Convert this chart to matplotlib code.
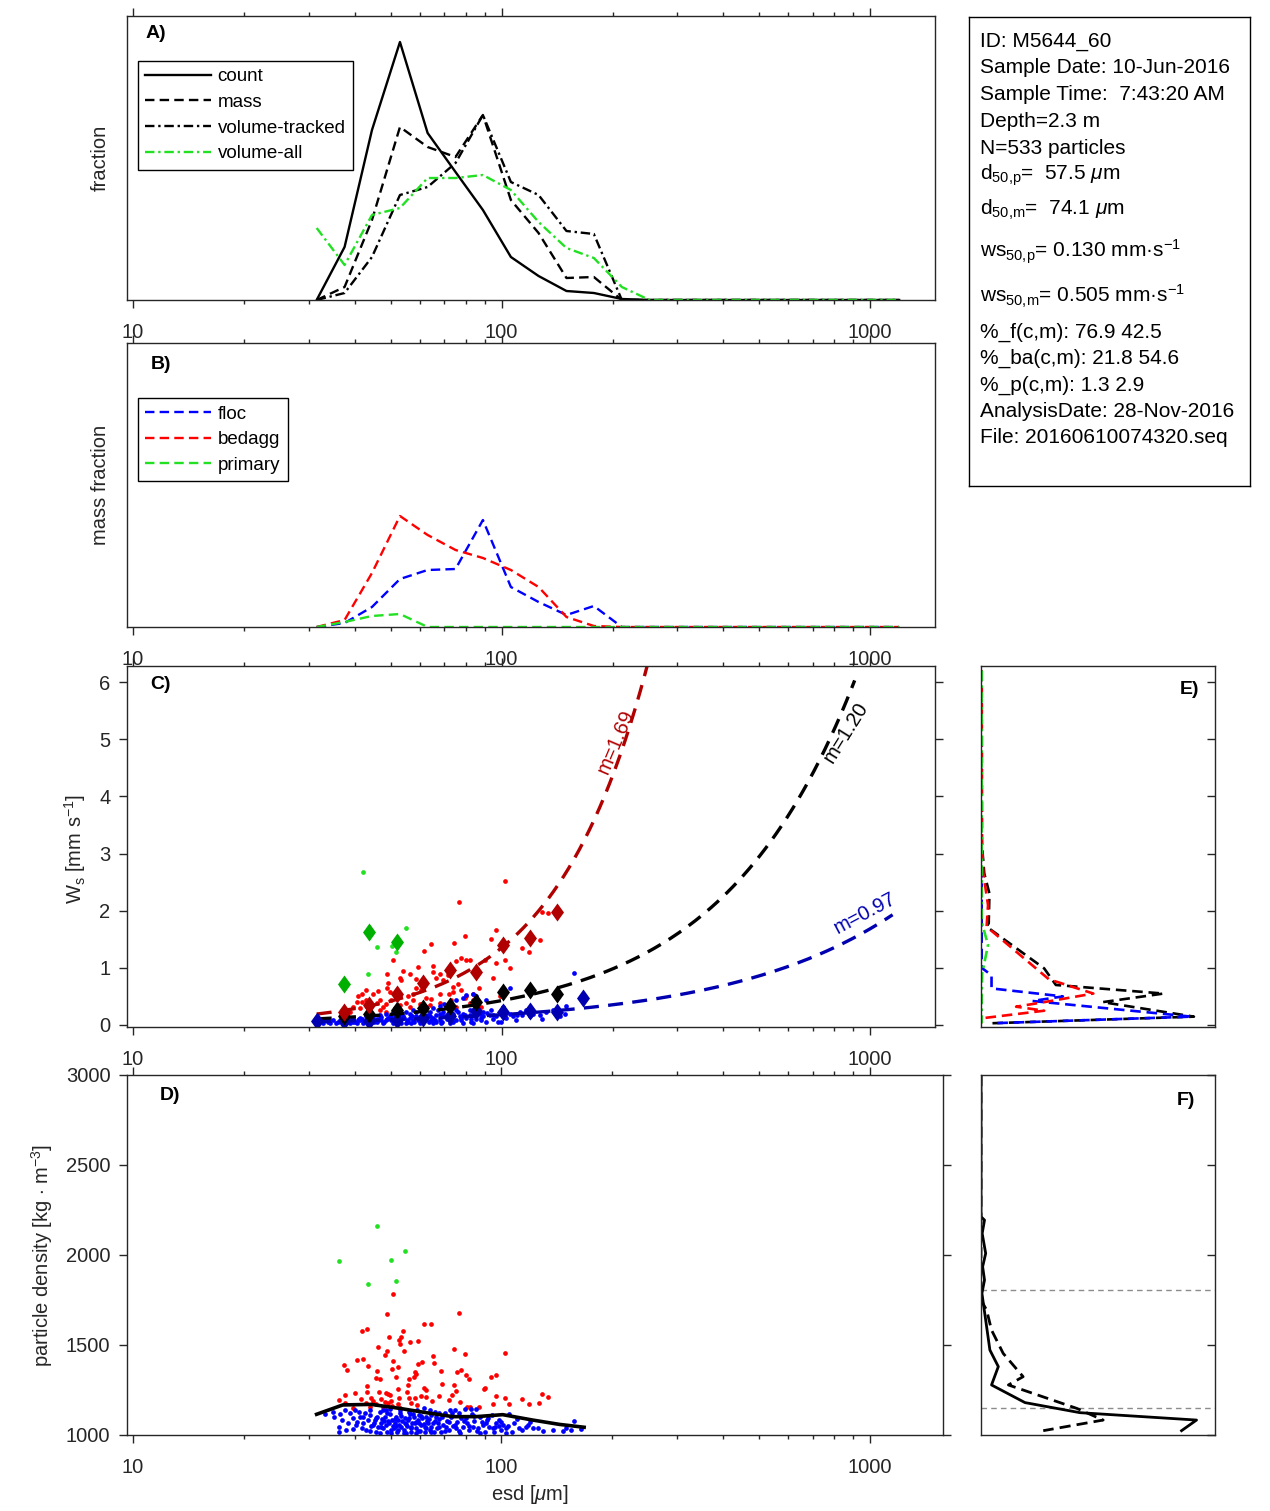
import numpy as np
import matplotlib
matplotlib.use('Agg')
import matplotlib.pyplot as plt
from matplotlib.ticker import LogLocator, NullFormatter

plt.rcParams['font.family'] = ['Liberation Sans', 'DejaVu Sans']
plt.rcParams['mathtext.fontset'] = 'custom'
plt.rcParams['mathtext.rm'] = 'Liberation Sans'
plt.rcParams['mathtext.it'] = 'Liberation Sans:italic'
plt.rcParams['font.size'] = 14.5

# ---- A / B : size distributions ----
bins = [31.5, 37.5, 44.5, 53, 63, 75, 89, 106, 126, 150, 178, 212, 252, 300,
        357, 424, 504, 600, 713, 848, 1008, 1199]
count = [0, .053, .170, .258, .167, .128, .090, .043, .024, .009, .007, .001] + [0] * 10
mass = [0, .013, .080, .173, .153, .143, .185, .100, .067, .022, .023, 0] + [0] * 10
vol_tracked = [0, .007, .043, .105, .113, .137, .185, .118, .105, .069, .066, 0] + [0] * 10
vol_all = [.072, .035, .085, .092, .122, .122, .125, .110, .078, .052, .042, .013] + [0] * 10

floc = [0, .004, .020, .048, .057, .058, .107, .040, .025, .012, .021, 0] + [0] * 10
bedagg = [0, .007, .054, .111, .092, .077, .069, .057, .040, .010, .001, 0] + [0] * 10
primary = [0, .005, .011, .013] + [0] * 18

# ---- C : settling velocity ----
c_red_d = [101.9, 76.6, 128.6, 133.9, 96.5, 126.8, 74.3, 79.7, 64.2, 61.7,
           50.9, 93.4, 113.7, 118.6, 102.1, 96.7, 105.1, 94.7, 89.9, 80.2,
           77.7, 81.9, 75.4, 65.2, 59.3, 56.3, 54.0, 48.9, 52.9, 53.4,
           58.5, 60.3, 65.2, 67.9, 66.5, 71.5, 73.8, 69.3, 76.2, 77.7,
           83.6, 86.8, 80.2, 73.8, 71.9, 67.9, 64.5, 62.5, 60.6, 58.7,
           57.5, 55.7, 52.9, 48.9, 49.3, 49.7, 46.3, 44.8, 43.0, 41.8,
           40.8, 40.4, 41.7, 43.0, 43.9, 45.8, 46.7, 47.7, 48.7, 50.2,
           51.3, 52.9, 55.2, 56.3, 57.5, 41.3, 39.5, 38.7, 46.7, 48.7,
           63.8, 59.9, 73.0, 67.9, 83.6, 88.1, 81.9, 75.4, 98.8, 79.4]
c_red_ws = [2.52, 2.16, 1.97, 1.96, 1.66, 1.48, 1.44, 1.56, 1.41, 1.29,
            1.14, 1.50, 1.35, 1.28, 1.14, 1.08, 1.00, 0.83, 1.14, 1.14,
            1.17, 1.14, 1.12, 1.03, 1.01, 0.90, 0.94, 0.90, 0.82, 0.79,
            0.80, 0.72, 0.93, 0.90, 0.82, 0.88, 0.67, 0.78, 0.72, 0.61,
            0.55, 0.64, 0.50, 0.58, 0.54, 0.54, 0.45, 0.47, 0.61, 0.65,
            0.54, 0.50, 0.53, 0.64, 0.73, 0.58, 0.60, 0.55, 0.62, 0.55,
            0.50, 0.41, 0.41, 0.44, 0.32, 0.38, 0.44, 0.32, 0.37, 0.44,
            0.29, 0.35, 0.38, 0.32, 0.44, 0.29, 0.32, 0.23, 0.26, 0.23,
            0.35, 0.37, 0.44, 0.38, 0.44, 0.32, 0.38, 0.32, 0.50, 0.47]
c_blue_d = [157, 105.5, 90.9, 85.4, 83.6, 80.2, 78.6, 75.4, 72.3, 70.0,
            67.9, 65.2, 62.5, 59.9, 57.5, 55.2, 52.9, 50.8, 48.7, 46.7,
            44.8, 43.0, 41.3, 39.5, 37.9, 36.4, 34.9, 33.5, 32.1, 31.5,
            149.7, 148.7, 143.9, 137.7, 132.1, 128.9, 121.6, 116.7, 113.5, 109.6,
            107.3, 105.1, 103.0, 99.8, 98.8, 96.7, 94.7, 92.8, 90.9, 89.0,
            87.2, 85.4, 83.6, 81.9, 80.2, 78.6, 76.9, 75.4, 73.8, 72.3,
            70.8, 69.3, 67.9, 66.5, 65.2, 63.8, 62.5, 61.2, 59.9, 58.7,
            57.5, 56.3, 55.2, 54.0, 52.9, 51.8, 50.8, 49.7, 48.7, 47.7,
            46.7, 45.8, 44.8, 43.9, 43.0, 42.1, 41.3, 40.4, 39.5, 38.7,
            37.9, 37.1, 35.6, 34.2, 32.8,
            56.3, 58.7, 61.2, 63.8, 66.5, 69.3, 72.3, 75.4, 78.6, 81.9,
            85.4, 89.0, 70.8, 67.2, 63.1, 59.3, 55.7, 52.3, 49.2, 46.3,
            43.4, 40.8, 38.3, 36.0, 33.8,
            126.8, 119.1, 111.9, 100.8, 93.7, 88.1, 82.7, 77.7, 73.0, 68.6,
            64.5, 60.6, 56.9, 53.4, 50.2, 47.2, 44.3, 41.7, 39.1, 36.8,
            40.0, 41.0, 42.5, 44.0, 45.0, 46.0, 47.0, 48.0, 49.0, 50.0,
            51.0, 52.0, 53.0, 54.5, 55.5, 57.0, 58.0, 59.5, 61.0, 62.0,
            63.5, 65.0, 66.0, 68.0, 69.0, 71.0, 72.5, 74.0, 76.0, 77.5,
            79.5, 82.5, 84.5, 86.0, 88.0, 91.5, 95.0, 97.5, 102, 110]
c_blue_ws = [0.91, 0.65, 0.44, 0.50, 0.55, 0.53, 0.47, 0.44, 0.41, 0.37,
             0.33, 0.29, 0.32, 0.26, 0.27, 0.23, 0.20, 0.22, 0.19, 0.18,
             0.15, 0.16, 0.13, 0.12, 0.10, 0.09, 0.08, 0.09, 0.10, 0.06,
             0.34, 0.19, 0.16, 0.26, 0.23, 0.10, 0.20, 0.26, 0.18, 0.09,
             0.15, 0.20, 0.12, 0.06, 0.23, 0.15, 0.10, 0.18, 0.06, 0.15,
             0.20, 0.10, 0.04, 0.18, 0.12, 0.03, 0.16, 0.09, 0.20, 0.04,
             0.15, 0.23, 0.09, 0.18, 0.03, 0.15, 0.10, 0.20, 0.04, 0.15,
             0.09, 0.19, 0.03, 0.15, 0.09, 0.18, 0.04, 0.15, 0.09, 0.03,
             0.12, 0.06, 0.10, 0.03, 0.08, 0.04, 0.09, 0.03, 0.06, 0.04,
             0.03, 0.05, 0.03, 0.04, 0.03,
             0.12, 0.23, 0.06, 0.23, 0.06, 0.15, 0.12, 0.26, 0.20, 0.26,
             0.29, 0.23, 0.32, 0.26, 0.18, 0.09, 0.06, 0.12, 0.12, 0.09,
             0.12, 0.08, 0.08, 0.06, 0.06,
             0.18, 0.15, 0.23, 0.32, 0.26, 0.09, 0.10, 0.08, 0.15, 0.03,
             0.09, 0.15, 0.03, 0.04, 0.09, 0.08, 0.06, 0.10, 0.09, 0.10,
             0.05, 0.11, 0.07, 0.13, 0.05, 0.10, 0.14, 0.06, 0.11, 0.16,
             0.07, 0.12, 0.05, 0.13, 0.09, 0.16, 0.06, 0.12, 0.09, 0.16,
             0.05, 0.13, 0.09, 0.20, 0.06, 0.11, 0.17, 0.06, 0.22, 0.13,
             0.18, 0.06, 0.16, 0.24, 0.13, 0.21, 0.18, 0.06, 0.14, 0.17]
c_green_d = [42.1, 55.0, 45.9, 50.3, 51.6, 43.4]
c_green_ws = [2.68, 1.70, 1.36, 1.38, 1.27, 0.89]

# bin medians (diamonds)
med_d = [31.5, 37.3, 43.7, 52.1, 61.3, 72.4, 85.4, 101, 119.6, 141.2, 166.2]
med_red = [None, 0.23, 0.35, 0.55, 0.73, 0.96, 0.93, 1.40, 1.52, 1.97, None]
med_all = [None, 0.16, 0.20, 0.27, 0.30, 0.34, 0.41, 0.57, 0.62, 0.55, None]
med_blue = [0.075, 0.07, 0.075, 0.09, 0.13, 0.15, 0.25, 0.23, 0.25, 0.23, 0.48]
med_green = [None, 0.72, 1.63, 1.46] + [None] * 7

# power-law fits ws = ws_ref * (d / d_ref) ** m
fit_m = [1.69, 1.20, 0.97]
fit_ref = [(113, 1.66), (629, 3.88), (736, 1.25)]
fit_range = [(31.5, 262), (31.5, 908), (31.5, 1151)]
fit_col = ['#b00000', 'black', '#0000b0']
fit_lab = ['m=1.69', 'm=1.20', 'm=0.97']
fit_lab_pos = [(204, 4.96, 67), (858, 5.12, 58), (966, 1.96, 28)]

# ---- D : particle density ----
d_red_d = [50.8, 48.9, 76.6, 41.8, 43.1, 61.7, 64.2, 54.0, 49.4, 53.4,
           52.6, 56.3, 53.1, 59.3, 46.3, 49.0, 48.4, 54.3, 74.3, 79.7,
           102.1, 65.3, 65.6, 60.9, 59.4, 42.1, 40.5, 37.4, 38.1, 50.7,
           52.3, 50.5, 43.3, 45.9, 45.8, 46.8, 51.9, 58.4, 58.7, 57.9,
           56.0, 55.9, 68.4, 75.6, 77.9, 80.0, 81.7, 69.1, 74.5, 75.4,
           73.6, 61.7, 62.5, 60.5, 62.4, 55.3, 52.4, 49.3, 48.7, 49.8,
           46.4, 43.1, 43.1, 40.1, 37.6, 36.3, 41.7, 44.3, 44.7, 47.2,
           48.3, 50.1, 52.7, 52.3, 50.6, 49.1, 45.8, 44.1, 43.0, 37.6,
           56.2, 58.2, 59.0, 56.7, 64.8, 67.9, 72.2, 77.4, 80.7, 82.2,
           87.0, 93.8, 96.5, 89.6, 90.1, 96.5, 102.1, 94.7, 104.7, 113.7,
           118.6, 128.9, 133.9, 126.5, 52.9, 47.7, 39.5]
d_red_rho = [1783, 1674, 1676, 1576, 1587, 1615, 1618, 1580, 1544, 1543,
             1528, 1517, 1505, 1520, 1491, 1467, 1443, 1467, 1476, 1450,
             1455, 1439, 1398, 1407, 1394, 1420, 1417, 1389, 1363, 1413,
             1380, 1367, 1385, 1354, 1318, 1311, 1322, 1352, 1341, 1320,
             1309, 1278, 1357, 1348, 1359, 1335, 1313, 1285, 1276, 1244,
             1222, 1261, 1252, 1218, 1213, 1241, 1254, 1230, 1233, 1222,
             1241, 1274, 1239, 1231, 1222, 1196, 1202, 1206, 1189, 1198,
             1185, 1191, 1204, 1170, 1161, 1176, 1172, 1157, 1176, 1176,
             1207, 1206, 1165, 1176, 1191, 1215, 1196, 1185, 1157, 1155,
             1157, 1320, 1333, 1255, 1263, 1218, 1207, 1174, 1172, 1198,
             1174, 1228, 1211, 1180, 1148, 1157, 1148]
d_blue_d = [33.1, 35.1, 36.2, 36.2, 37.0, 37.5, 38.7, 39.5, 40.0, 41.1,
            41.3, 42.1, 43.0, 43.9, 44.3, 45.3, 45.8, 46.7, 47.2, 47.7,
            48.2, 48.5, 48.9, 49.5, 49.9, 50.6, 51.1, 51.7, 52.1, 52.7,
            53.2, 53.8, 54.3, 54.9, 55.4, 56.1, 56.7, 57.2, 57.8, 58.5,
            59.0, 59.6, 60.3, 60.9, 61.6, 62.2, 62.9, 63.8, 64.5, 65.2,
            66.1, 66.8, 67.6, 68.6, 69.3, 70.2, 71.1, 72.0, 73.1, 73.8,
            74.9, 75.6, 76.6, 77.7, 78.6, 79.7, 80.7, 81.9, 83.1, 84.1,
            85.4, 86.5, 87.7, 89.0, 90.3, 91.4, 92.8, 94.1, 95.3, 96.7,
            98.4, 99.8, 101.3, 103.0, 105.1, 106.6, 108.4, 111.4, 113.7, 116.7,
            119.6, 121.6, 129.4, 137.7, 146.6, 149.7, 154.4, 157.0, 164.4,
            43.4, 44.8, 46.3, 47.5, 48.7, 50.2, 51.3, 52.4, 53.4, 54.6,
            55.7, 56.9, 58.1, 59.3, 60.6, 61.9, 63.1, 64.5, 65.8, 67.2,
            46.7, 49.2, 51.9, 55.2, 58.7, 62.5, 66.5, 70.8, 75.4, 80.2,
            83.6, 90.9, 98.8, 87.2, 94.7, 103.0, 38.3, 40.4, 42.1, 36.4,
            34.9, 39.5, 37.9, 43.9, 45.8, 47.7, 49.7, 52.9, 56.3, 59.9,
            63.8, 67.9, 72.3, 76.9, 82.7,
            40.5, 41.8, 42.6, 44.0, 45.0, 46.0, 47.0, 48.0, 49.0, 50.0,
            50.9, 51.5, 52.5, 53.5, 54.5, 55.0, 56.0, 57.0, 57.5, 58.5,
            59.5, 60.5, 61.5, 62.5, 63.5, 64.5, 66.0, 67.5, 69.0, 70.5,
            72.0, 73.5, 75.0, 77.0, 79.0, 81.5, 84.0, 86.0, 88.5, 92.0,
            96.0, 100, 104, 110, 118, 126]
d_blue_rho = [1115, 1102, 1046, 1018, 1083, 1137, 1120, 1031, 1139, 1126,
              1098, 1065, 1028, 1111, 1050, 1083, 1018, 1130, 1065, 1037,
              1102, 1139, 1018, 1065, 1117, 1083, 1037, 1102, 1018, 1055,
              1120, 1080, 1028, 1093, 1050, 1130, 1018, 1068, 1102, 1037,
              1139, 1065, 1024, 1093, 1148, 1046, 1080, 1028, 1111, 1065,
              1130, 1037, 1087, 1018, 1055, 1120, 1080, 1028, 1102, 1050,
              1139, 1074, 1024, 1093, 1046, 1143, 1065, 1028, 1117, 1080,
              1143, 1037, 1102, 1055, 1018, 1083, 1046, 1111, 1018, 1065,
              1083, 1028, 1055, 1037, 1117, 1018, 1065, 1037, 1028, 1046,
              1074, 1037, 1024, 1028, 1020, 1037, 1028, 1078, 1031,
              1083, 1055, 1046, 1087, 1055, 1028, 1065, 1083, 1046, 1065,
              1083, 1046, 1065, 1083, 1055, 1018, 1065, 1046, 1018, 1065,
              1013, 1080, 1050, 1013, 1013, 1102, 1102, 1046, 1037, 1093,
              1046, 1065, 1050, 1013, 1037, 1013, 1065, 1055, 1102, 1117,
              1130, 1093, 1028, 1139, 1093, 1139, 1143, 1139, 1117, 1111,
              1139, 1120, 1139, 1120, 1143,
              1075, 1040, 1120, 1025, 1068, 1100, 1045, 1078, 1120, 1010,
              1050, 1090, 1030, 1105, 1012, 1060, 1095, 1040, 1115, 1075,
              1025, 1108, 1060, 1038, 1090, 1015, 1078, 1045, 1100, 1020,
              1070, 1120, 1058, 1012, 1080, 1048, 1105, 1025, 1072, 1095,
              1042, 1075, 1050, 1090, 1058, 1040]
d_green_d = [45.9, 36.2, 54.8, 50.3, 43.4, 51.7]
d_green_rho = [2161, 1967, 2020, 1974, 1837, 1857]
mean_d = [31.5, 37.1, 44.3, 52.9, 62.5, 73.8, 85.4, 100.8, 121.6, 143.6, 167.7]
mean_rho = [1115, 1167, 1170, 1148, 1124, 1102, 1102, 1113, 1083, 1059, 1043]

# ---- E : ws distributions (fraction, ws) ----
e_black_f = [0.003, 0.004, 0.014, 0.036, 0.033, 0.024, 0.27, 0.32, 0.78, 0.52, 0.91, 0.04]
e_black_ws = [6.2, 3.15, 2.65, 2.30, 1.78, 1.72, 0.99, 0.70, 0.55, 0.40, 0.146, 0.03]
e_red_f = [0.003, 0.003, 0.01, 0.03, 0.024, 0.29, 0.48, 0.27, 0.15, 0.27, 0.003, 0.003]
e_red_ws = [6.2, 3.3, 2.65, 2.1, 1.72, 0.80, 0.55, 0.40, 0.32, 0.25, 0.117, 0.03]
e_blue_f = [0.003, 0.003, 0.045, 0.045, 0.35, 0.22, 0.9, 0.045]
e_blue_ws = [6.2, 1.0, 0.87, 0.64, 0.50, 0.42, 0.146, 0.03]
e_green_f = [0.003, 0.003, 0.03, 0.005, 0.003, 0.003, 0.003]
e_green_ws = [6.2, 1.8, 1.4, 0.9, 0.55, 0.3, 0.03]

# ---- F : density distributions (fraction, density) ----
f_count_f = [0, 0, 0.015, 0.005, 0.02, 0.007, 0.015, 0.004, 0.01, 0.024, 0.038,
             0.074, 0.045, 0.188, 0.423, 0.921, 0.857]
f_count_rho = [3000, 2213, 2194, 2120, 2009, 1935, 1861, 1787, 1731, 1602, 1472,
               1380, 1278, 1180, 1124, 1083, 1024]
f_mass_f = [0, 0, 0.024, 0.045, 0.095, 0.18, 0.117, 0.409, 0.522, 0.266]
f_mass_rho = [3000, 1750, 1694, 1583, 1453, 1324, 1278, 1148, 1083, 1024]
f_lines = [1805, 1152]

info = ['ID: M5644_60', 'Sample Date: 10-Jun-2016', 'Sample Time:  7:43:20 AM',
        'Depth=2.3 m', 'N=533 particles', r'd$_{\mathrm{50{,}p}}$=  57.5 $\mu$m',
        r'd$_{\mathrm{50{,}m}}$=  74.1 $\mu$m', r'ws$_{\mathrm{50{,}p}}$= 0.130 mm·s$^{\mathrm{-1}}$',
        r'ws$_{\mathrm{50{,}m}}$= 0.505 mm·s$^{\mathrm{-1}}$', '%_f(c,m): 76.9 42.5',
        '%_ba(c,m): 21.8 54.6', '%_p(c,m): 1.3 2.9',
        'AnalysisDate: 28-Nov-2016', 'File: 20160610074320.seq']
info_base = [47, 73, 100, 127, 154, 180, 215, 258, 303, 338, 364, 391, 417, 443]

# ---------------- drawing ----------------
W, H = 1270, 1511
fig = plt.figure(figsize=(W / 100, H / 100), dpi=100)
axcol = '0.15'
GREEN = '#22e022'
DASH = (4, 2.2)
DASHDOT = (4, 1.6, 1, 1.6)


def box(l, t, r, b):
    return fig.add_axes([l / W, 1 - b / H, (r - l) / W, (b - t) / H])


def style(ax, direction='out'):
    for s in ax.spines.values():
        s.set_color(axcol)
        s.set_linewidth(1.0)
    ax.tick_params(which='both', direction=direction, colors=axcol,
                   labelcolor=axcol, labelsize=14.5, width=1, top=True, right=True)
    ax.tick_params(which='major', length=6)
    ax.tick_params(which='minor', length=3.2)
    ax.tick_params(axis='x', which='major', pad=10.5)
    ax.tick_params(axis='y', which='major', pad=6)


def logx(ax, right=1500):
    ax.set_xscale('log')
    ax.set_xlim(9.63, right)
    ax.set_xticks([10, 100, 1000], ['10', '100', '1000'])
    ax.xaxis.set_minor_locator(LogLocator(base=10, subs=np.arange(2, 10)))
    ax.xaxis.set_minor_formatter(NullFormatter())


def letter(ax, x, y, s):
    ax.text(x, y, s, transform=ax.transAxes, fontsize=14, fontweight='bold',
            ha='center', va='center', color='black')


def legend(ax, anchor):
    leg = ax.legend(loc='upper left', bbox_to_anchor=anchor, borderaxespad=0,
                    fancybox=False, edgecolor='black', fontsize=13.5, handlelength=3.5,
                    labelspacing=0.45, handletextpad=0.35, borderpad=0.4, framealpha=1)
    leg.get_frame().set_linewidth(1.0)


# A
axA = box(127, 16, 935, 300)
style(axA)
logx(axA)
axA.set_yticks([])
axA.set_ylim(0, 0.284)
axA.plot(bins, count, '-', color='black', lw=1.7, label='count')
axA.plot(bins, mass, color='black', lw=1.7, dashes=DASH, label='mass')
axA.plot(bins, vol_tracked, color='black', lw=1.7, dashes=DASHDOT, label='volume-tracked')
axA.plot(bins, vol_all, color=GREEN, lw=1.7, dashes=DASHDOT, label='volume-all')
legend(axA, (0.0136, 0.842))
letter(axA, 0.036, 0.94, 'A)')

# B
axB = box(127, 343, 935, 627)
style(axB)
logx(axB)
axB.set_yticks([])
axB.set_ylim(0, 0.284)
axB.plot(bins, floc, color='#0000ff', lw=1.7, dashes=DASH, label='floc')
axB.plot(bins, bedagg, color='#ff0000', lw=1.7, dashes=DASH, label='bedagg')
axB.plot(bins, primary, color=GREEN, lw=1.7, dashes=DASH, label='primary')
legend(axB, (0.0136, 0.806))
letter(axB, 0.042, 0.923, 'B)')

# C
diam = [(0, 1), (0.72, 0), (0, -1), (-0.72, 0), (0, 1)]
axC = box(127, 666, 935, 1027)
style(axC)
logx(axC)
axC.set_ylim(-0.035, 6.28)
axC.set_yticks(range(7))
axC.plot(c_red_d, c_red_ws, 'o', color='#ff0000', ms=3.4, mew=0)
axC.plot(c_blue_d, c_blue_ws, 'o', color='#0000ff', ms=3.4, mew=0)
axC.plot(c_green_d, c_green_ws, 'o', color=GREEN, ms=3.4, mew=0)
for m, (dr, wr), (d0, d1), col in zip(fit_m, fit_ref, fit_range, fit_col):
    dd = np.geomspace(d0, d1, 200)
    axC.plot(dd, wr * (dd / dr) ** m, color=col, lw=2.4, dashes=(4.5, 2.8))
for vals, col in [(med_blue, '#0000b0'), (med_all, 'black'), (med_red, '#b00000'),
                  (med_green, '#00b000')]:
    dx = [d for d, v in zip(med_d, vals) if v is not None]
    vy = [v for v in vals if v is not None]
    axC.plot(dx, vy, ls='none', marker=diam, ms=13, color=col, mew=0)
for (x, y, rot), s, col in zip(fit_lab_pos, fit_lab, fit_col):
    axC.text(x, y, s, rotation=rot, color=col, fontsize=14.5, ha='center', va='center')
letter(axC, 0.042, 0.95, 'C)')

# D
axD = box(127, 1075, 943, 1435)
style(axD)
logx(axD, 1580)
axD.set_ylim(1000, 3000)
axD.set_yticks([1000, 1500, 2000, 2500, 3000])
axD.plot(d_red_d, d_red_rho, 'o', color='#ff0000', ms=3.4, mew=0)
axD.plot(d_blue_d, d_blue_rho, 'o', color='#0000ff', ms=3.4, mew=0)
axD.plot(d_green_d, d_green_rho, 'o', color=GREEN, ms=3.4, mew=0)
axD.plot(mean_d, mean_rho, '-', color='black', lw=2.6)
letter(axD, 0.053, 0.944, 'D)')

# E
axE = box(981, 666, 1215, 1027)
style(axE, 'in')
axE.set_xlim(0, 1)
axE.set_ylim(-0.035, 6.28)
axE.set_xticks([])
axE.set_yticks(range(7))
axE.tick_params(labelleft=False, labelright=False, left=False)
axE.plot(e_black_f, e_black_ws, color='black', lw=1.9, dashes=DASH)
axE.plot(e_blue_f, e_blue_ws, color='#0000ff', lw=1.9, dashes=DASH)
axE.plot(e_red_f, e_red_ws, color='#ff0000', lw=1.9, dashes=DASH)
axE.plot(e_green_f, e_green_ws, color=GREEN, lw=1.9, dashes=DASHDOT)
letter(axE, 0.889, 0.934, 'E)')

# F
axF = box(981, 1075, 1215, 1435)
style(axF, 'in')
axF.set_xlim(0, 1)
axF.set_ylim(1000, 3000)
axF.set_xticks([])
axF.set_yticks([1000, 1500, 2000, 2500, 3000])
axF.tick_params(labelleft=False, labelright=False, left=False)
for yl in f_lines:
    axF.axhline(yl, color='0.55', lw=1.0, dashes=(4, 3))
axF.plot(f_count_f, f_count_rho, '-', color='black', lw=2.0)
axF.plot(f_mass_f, f_mass_rho, color='black', lw=2.0, dashes=DASH)
letter(axF, 0.876, 0.93, 'F)')

# info box
axT = box(969, 17, 1250, 486)
axT.set_xticks([])
axT.set_yticks([])
for s in axT.spines.values():
    s.set_linewidth(1.0)
for s, yb in zip(info, info_base):
    fig.text(980 / W, 1 - yb / H, s, fontsize=15, va='baseline', ha='left')

# axis labels
fig.text(100 / W, 1 - 158 / H, 'fraction', rotation=90, ha='center', va='center', color=axcol)
fig.text(100 / W, 1 - 485 / H, 'mass fraction', rotation=90, ha='center', va='center', color=axcol)
fig.text(75 / W, 1 - 849 / H, r'W$_\mathrm{s}$ [mm s$^{\mathrm{-1}}$]', rotation=90,
         ha='center', va='center', color=axcol)
fig.text(42 / W, 1 - 1255 / H, r'particle density [kg $\cdot$ m$^{\mathrm{-3}}$]', rotation=90,
         ha='center', va='center', color=axcol)
fig.text(530 / W, 1 - 1495 / H, r'esd [$\mu$m]', ha='center', va='center', color=axcol)

fig.savefig('out.png', dpi=100)
